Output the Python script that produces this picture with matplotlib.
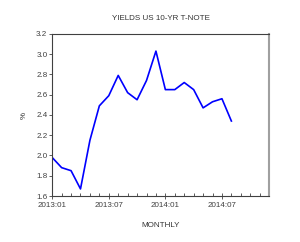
import matplotlib
matplotlib.use("Agg")
import matplotlib.pyplot as plt
from matplotlib.ticker import MultipleLocator

plt.rcParams['font.family'] = ['Liberation Sans', 'DejaVu Sans']

months = list(range(20))  # 2013:01 .. 2014:08
yields = [1.98, 1.88, 1.85, 1.67, 2.15, 2.49, 2.59, 2.79, 2.62, 2.55,
          2.74, 3.03, 2.65, 2.65, 2.72, 2.65, 2.47, 2.53, 2.56, 2.34]
tick_pos = [0, 6, 12, 18]
tick_labels = ["2013:01", "2013:07", "2014:01", "2014:07"]
yticks = [1.6, 1.8, 2.0, 2.2, 2.4, 2.6, 2.8, 3.0, 3.2]

fs = 5.8
fig = plt.figure(figsize=(3.0, 2.42), dpi=100)
ax = fig.add_axes([0.174, 0.190, 0.723, 0.670])
ax.plot(months, yields, color="#0000ff", lw=1.2)
ax.set_xlim(0, 23)
ax.set_ylim(1.6, 3.2)
ax.set_xticks(tick_pos)
ax.set_xticklabels(tick_labels)
ax.xaxis.set_minor_locator(MultipleLocator(1))
ax.set_yticks(yticks)
ax.set_yticklabels([f"{v:.1f}" for v in yticks])
ax.tick_params(axis='x', which='major', direction='inout', length=5, width=0.6,
               labelsize=fs, pad=1.5, colors='#404040')
ax.tick_params(axis='x', which='minor', direction='in', length=2.5, width=0.6, colors='#404040')
ax.tick_params(axis='y', direction='out', length=2.5, width=0.6, labelsize=fs, pad=1,
               colors='#404040')
for s in ['left', 'bottom', 'top']:
    ax.spines[s].set_color('#404040')
    ax.spines[s].set_linewidth(0.8)
ax.spines['right'].set_color('#a0a0a0')
ax.spines['right'].set_linewidth(1.5)
ax.set_title("YIELDS US 10-YR T-NOTE", fontsize=fs, color='#333333', pad=10)
ax.set_ylabel("%", fontsize=fs, color='#333333', labelpad=6)
ax.set_xlabel("MONTHLY", fontsize=fs, color='#333333', labelpad=10)
fig.savefig("out.png", dpi=100)
